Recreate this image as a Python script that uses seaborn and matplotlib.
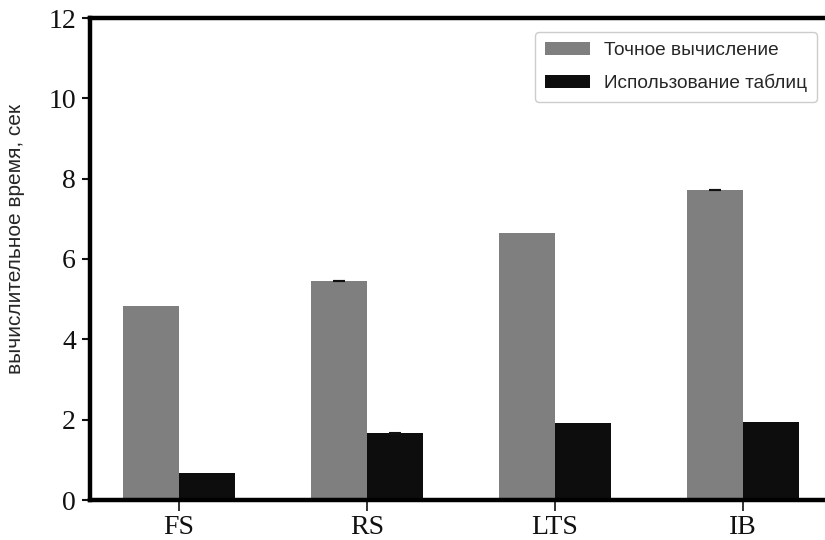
import matplotlib
matplotlib.use("Agg")
import matplotlib.pyplot as plt
import seaborn as sns
import pandas as pd

# Data: computation time per model, two methods
models = ["FS", "RS", "LTS", "IB"]
exact_time = [4.82, 5.45, 6.65, 7.72]
table_time = [0.68, 1.66, 1.91, 1.94]
exact_err = [0.0, 0.01, 0.0, 0.01]
table_err = [0.0, 0.01, 0.0, 0.0]
series_names = ["Точное вычисление", "Использование таблиц"]
series_colors = ["#7f7f7f", "#0d0d0d"]
y_ticks = [0, 2, 4, 6, 8, 10, 12]

sns.set_theme(style="white")
plt.rcParams["font.family"] = ["Liberation Sans", "DejaVu Sans"]

df = pd.DataFrame({
    "model": models * 2,
    "time": exact_time + table_time,
    "err": exact_err + table_err,
    "method": [series_names[0]] * len(models) + [series_names[1]] * len(models),
})

fig = plt.figure(figsize=(8.25, 5.4), dpi=100)
ax = fig.add_axes([90 / 825, 40 / 540, 742 / 825, 482 / 540])

sns.barplot(data=df, x="model", y="time", hue="method", order=models,
            hue_order=series_names, palette=series_colors, width=0.6,
            errorbar=None, saturation=1, linewidth=0, ax=ax)

# small error caps on top of the bars
for bar, (_, row) in zip(ax.patches, df.iterrows()):
    if row["err"] > 0:
        cx = bar.get_x() + bar.get_width() / 2
        ax.errorbar(cx, row["time"], yerr=row["err"], fmt="none",
                    ecolor="#111111", elinewidth=1.2, capsize=4, capthick=1.5)

ax.set_xlim(-0.473, 3.473)
ax.set_ylim(0, 12)
ax.set_yticks(y_ticks)
ax.set_xlabel("")
ax.set_ylabel("вычислительное время, сек", fontsize=15,
              family=["Liberation Sans", "DejaVu Sans"])
ax.yaxis.set_label_coords(-0.087, 0.541)

for lab in ax.get_xticklabels() + ax.get_yticklabels():
    lab.set_family(["Liberation Serif", "DejaVu Serif"])
    lab.set_fontsize(20)
ax.tick_params(axis="y", which="major", direction="out", length=6, width=1.5,
               left=True, pad=4, colors="#111111")
ax.tick_params(axis="x", which="major", direction="out", length=8, width=1.2,
               bottom=True, pad=3, colors="#111111")

for side in ["left", "top", "bottom", "right"]:
    ax.spines[side].set_color("#000000")
    ax.spines[side].set_linewidth(3.2)

leg = ax.legend(loc="upper right", bbox_to_anchor=(817 / 825, 1 - 32 / 540),
                bbox_transform=fig.transFigure, borderaxespad=0,
                frameon=True, fontsize=13.7, handlelength=2.4, handleheight=0.7,
                labelspacing=0.8, borderpad=0.5, handletextpad=0.75,
                fancybox=True, edgecolor="#cccccc", framealpha=1)
leg.get_frame().set_linewidth(1.0)

fig.savefig("out.png", dpi=100)
